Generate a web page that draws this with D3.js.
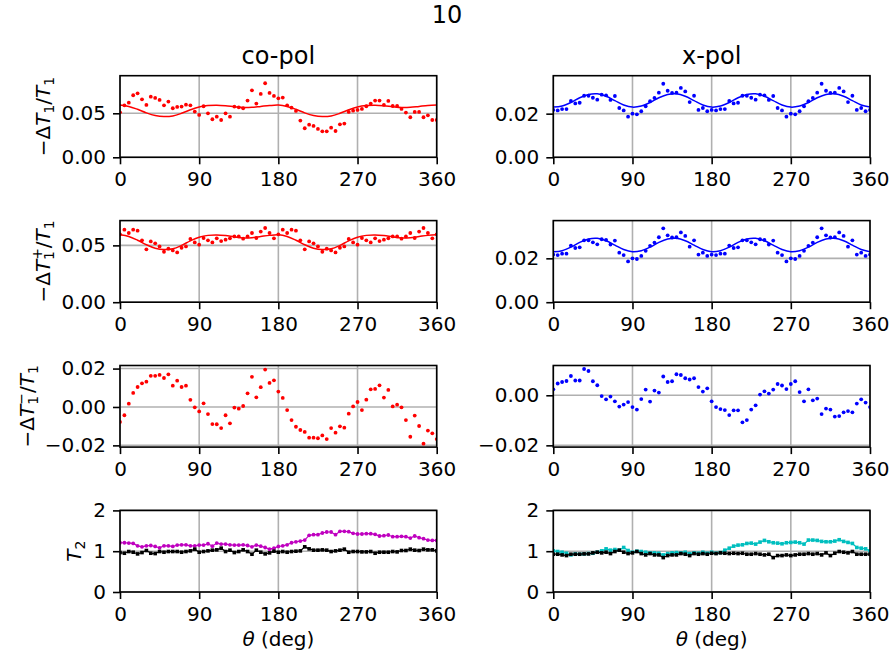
<!DOCTYPE html>
<html>
<head>
<meta charset="utf-8">
<script src="https://cdn.jsdelivr.net/npm/d3@7"></script>
<style>
  body { margin: 0; background: #fff; }
  svg { display: block; }
  text { font-family: "DejaVu Sans", sans-serif; fill: #000; }
</style>
</head>
<body>
<svg id="fig" width="894" height="660"></svg>
<script>
// Measurement angles (deg) and the angles at which the fitted curves are sampled
const thetaDeg = [0,5,10,15,20,25,30,35,40,45,50,55,60,65,70,75,80,85,90,95,100,105,110,115,120,125,130,135,140,145,150,155,160,165,170,175,
  180,185,190,195,200,205,210,215,220,225,230,235,240,245,250,255,260,265,270,275,280,285,290,295,300,305,310,315,320,325,330,335,340,345,350,355,360];
const fitThetaDeg = [0,10,20,30,40,50,60,70,80,90,100,110,120,130,140,150,160,170,180,
  190,200,210,220,230,240,250,260,270,280,290,300,310,320,330,340,350,360];
const xTickValues = [0, 90, 180, 270, 360];

// co-pol: -dT1/T1
const coT1 = [0.0511,0.0591,0.0621,0.0705,0.0727,0.0659,0.0595,0.0689,0.0674,0.0652,0.0591,0.0633,0.0557,0.0572,0.0576,0.0598,0.0591,0.0519,
  0.0481,0.0580,0.0500,0.0432,0.0462,0.0424,0.0500,0.0462,0.0576,0.0568,0.0557,0.0644,0.0761,0.0610,0.0720,0.0841,0.0731,0.0697,
  0.0670,0.0678,0.0591,0.0564,0.0527,0.0417,0.0330,0.0371,0.0356,0.0322,0.0295,0.0295,0.0337,0.0299,0.0375,0.0383,0.0515,0.0530,
  0.0538,0.0549,0.0580,0.0610,0.0644,0.0644,0.0595,0.0640,0.0583,0.0583,0.0549,0.0508,0.0455,0.0515,0.0515,0.0455,0.0477,0.0424,0.0424];
// co-pol: -dT1+/T1
const coT1Plus = [0.0597,0.0638,0.0609,0.0638,0.0629,0.0544,0.0465,0.0535,0.0518,0.0491,0.0444,0.0471,0.0456,0.0438,0.0479,0.0491,0.0556,0.0526,
  0.0506,0.0565,0.0544,0.0526,0.0562,0.0538,0.0550,0.0562,0.0579,0.0579,0.0559,0.0579,0.0609,0.0565,0.0621,0.0653,0.0609,0.0562,
  0.0597,0.0638,0.0609,0.0638,0.0629,0.0544,0.0465,0.0535,0.0518,0.0491,0.0444,0.0471,0.0456,0.0438,0.0479,0.0491,0.0556,0.0526,
  0.0506,0.0565,0.0544,0.0526,0.0562,0.0538,0.0550,0.0562,0.0579,0.0579,0.0559,0.0579,0.0609,0.0565,0.0621,0.0653,0.0609,0.0562,0.0597];
// co-pol: -dT1-/T1
const coT1Minus = [-0.0078,-0.0043,0.0017,0.0073,0.0104,0.0123,0.0132,0.0162,0.0162,0.0167,0.0151,0.0170,0.0111,0.0137,0.0104,0.0111,0.0037,-0.0002,
  -0.0023,0.0019,-0.0037,-0.0089,-0.0090,-0.0110,-0.0043,-0.0085,-0.0003,-0.0009,0.0005,0.0071,0.0157,0.0050,0.0103,0.0195,0.0125,0.0139,
  0.0080,0.0047,-0.0016,-0.0068,-0.0103,-0.0120,-0.0130,-0.0160,-0.0160,-0.0163,-0.0148,-0.0167,-0.0110,-0.0134,-0.0101,-0.0108,-0.0035,0.0003,
  0.0026,-0.0016,0.0038,0.0092,0.0094,0.0113,0.0049,0.0089,0.0003,0.0012,-0.0002,-0.0068,-0.0155,-0.0045,-0.0099,-0.0191,-0.0123,-0.0137,-0.0167];
// co-pol T2 (two traces)
const coT2a = [1.207,1.207,1.198,1.190,1.132,1.107,1.132,1.140,1.116,1.083,1.132,1.132,1.116,1.149,1.157,1.157,1.132,1.132,
  1.149,1.149,1.182,1.124,1.198,1.174,1.174,1.157,1.149,1.149,1.157,1.140,1.107,1.149,1.124,1.091,1.050,1.074,
  1.116,1.132,1.157,1.207,1.231,1.248,1.273,1.388,1.405,1.405,1.446,1.471,1.471,1.405,1.488,1.488,1.479,1.438,
  1.421,1.421,1.430,1.430,1.413,1.372,1.380,1.397,1.355,1.355,1.364,1.355,1.322,1.372,1.331,1.306,1.273,1.264,1.264];
const coT2b = [0.967,0.950,0.992,0.975,0.934,0.967,1.017,0.950,0.942,0.992,0.975,0.992,0.992,0.992,0.975,0.992,1.008,1.050,
  0.975,0.992,1.008,1.025,1.033,1.074,0.992,1.025,0.967,0.992,1.033,0.992,0.926,1.025,0.975,0.934,0.959,1.000,
  0.975,0.992,0.975,0.992,1.000,1.008,1.107,1.058,1.025,1.025,1.033,1.025,0.992,1.008,1.025,1.050,0.975,0.992,
  0.992,0.983,0.983,0.992,0.950,0.975,0.975,0.975,0.992,0.983,1.017,1.017,1.050,1.025,1.017,1.050,1.033,1.033,1.008];

// x-pol: -dT1/T1
const xT1 = [0.0217,0.0215,0.0221,0.0221,0.0258,0.0247,0.0250,0.0282,0.0282,0.0273,0.0264,0.0287,0.0284,0.0263,0.0281,0.0226,0.0215,0.0186,
  0.0200,0.0197,0.0211,0.0234,0.0257,0.0272,0.0296,0.0337,0.0305,0.0295,0.0296,0.0318,0.0302,0.0253,0.0282,0.0217,0.0226,0.0211,
  0.0217,0.0215,0.0221,0.0221,0.0258,0.0247,0.0250,0.0282,0.0282,0.0273,0.0264,0.0287,0.0284,0.0263,0.0281,0.0226,0.0215,0.0186,
  0.0200,0.0197,0.0211,0.0234,0.0257,0.0272,0.0296,0.0337,0.0305,0.0295,0.0296,0.0318,0.0302,0.0253,0.0282,0.0217,0.0226,0.0211,0.0217];
// x-pol: -dT1+/T1
const xT1Plus = [0.0217,0.0215,0.0221,0.0221,0.0258,0.0247,0.0250,0.0282,0.0282,0.0273,0.0264,0.0287,0.0284,0.0263,0.0281,0.0226,0.0215,0.0186,
  0.0200,0.0197,0.0211,0.0234,0.0257,0.0272,0.0296,0.0337,0.0305,0.0295,0.0296,0.0318,0.0302,0.0253,0.0282,0.0217,0.0226,0.0211,
  0.0217,0.0215,0.0221,0.0221,0.0258,0.0247,0.0250,0.0282,0.0282,0.0273,0.0264,0.0287,0.0284,0.0263,0.0281,0.0226,0.0215,0.0186,
  0.0200,0.0197,0.0211,0.0234,0.0257,0.0272,0.0296,0.0337,0.0305,0.0295,0.0296,0.0318,0.0302,0.0253,0.0282,0.0217,0.0226,0.0211,0.0217];
// x-pol: -dT1-/T1
const xT1Minus = [0.0024,0.0047,0.0053,0.0057,0.0077,0.0059,0.0059,0.0105,0.0097,0.0056,0.0040,-0.0003,-0.0016,-0.0005,-0.0024,-0.0045,-0.0037,-0.0027,
  -0.0047,-0.0057,-0.0015,0.0023,-0.0025,0.0019,0.0011,0.0075,0.0053,0.0056,0.0084,0.0081,0.0068,0.0063,0.0068,0.0033,0.0015,0.0028,
  -0.0024,-0.0047,-0.0055,-0.0059,-0.0079,-0.0060,-0.0060,-0.0108,-0.0099,-0.0057,-0.0040,0.0003,0.0016,0.0007,0.0023,0.0045,0.0039,0.0025,
  0.0045,0.0056,0.0013,-0.0024,0.0024,-0.0020,-0.0013,-0.0075,-0.0053,-0.0057,-0.0085,-0.0083,-0.0068,-0.0063,-0.0068,-0.0033,-0.0016,-0.0029,-0.0047];
// x-pol T2 (two traces)
const xT2a = [1.008,0.992,0.975,0.950,0.909,0.934,0.926,0.934,0.942,0.950,0.975,1.008,1.058,1.025,1.041,1.025,1.091,1.017,
  0.975,1.000,0.992,0.975,0.959,0.959,0.950,0.909,0.942,0.959,0.967,0.959,0.975,0.942,0.959,0.950,0.975,0.950,
  0.975,0.950,0.967,1.025,1.074,1.124,1.149,1.157,1.190,1.198,1.174,1.223,1.264,1.231,1.207,1.198,1.182,1.207,
  1.215,1.223,1.207,1.174,1.273,1.273,1.264,1.240,1.231,1.231,1.248,1.281,1.240,1.215,1.190,1.091,1.074,1.058,1.008];
const xT2b = [0.926,0.926,0.909,0.893,0.926,0.926,0.926,0.934,0.934,0.959,0.975,0.959,0.975,0.942,0.992,1.025,0.975,0.942,
  0.959,0.992,0.942,0.909,0.942,0.909,0.909,0.843,0.893,0.909,0.909,0.942,0.926,0.893,0.942,0.926,0.942,0.926,
  0.950,0.942,0.959,0.950,0.942,0.950,0.942,0.950,0.926,0.926,0.942,0.926,0.909,0.926,0.843,0.893,0.893,0.909,
  0.893,0.909,0.926,0.926,0.942,0.926,0.942,0.909,0.959,0.893,0.950,0.992,0.975,0.959,0.992,0.926,0.926,0.926,0.926];

// Fitted curves, sampled every 10 deg
const coFit = [0.0593,0.0578,0.0545,0.0505,0.0475,0.0463,0.0470,0.0500,0.0540,0.0572,0.0588,0.0592,0.0586,0.0575,0.0566,0.0568,0.0578,0.0588,0.0593,
  0.0578,0.0545,0.0505,0.0475,0.0463,0.0470,0.0500,0.0540,0.0572,0.0588,0.0592,0.0586,0.0575,0.0566,0.0568,0.0578,0.0588,0.0593];
const xFit = [0.0230,0.0235,0.0251,0.0273,0.0288,0.0291,0.0280,0.0260,0.0240,
  0.0230,0.0235,0.0251,0.0273,0.0288,0.0291,0.0280,0.0260,0.0240,
  0.0230,0.0235,0.0251,0.0273,0.0288,0.0291,0.0280,0.0260,0.0240,
  0.0230,0.0235,0.0251,0.0273,0.0288,0.0291,0.0280,0.0260,0.0240,0.0230];

const RED = "#ff0000", BLUE = "#0000ff", MAGENTA = "#bf00bf", CYAN = "#00bfbf", BLACK = "#000000";

const panels = [
  { row: 0, col: 0, yDomain: [0, 0.0927], yTicks: [0, 0.05], fmt: ".2f",
    series: [{ v: coT1, color: RED, mark: "dot" }], fit: { v: coFit, color: RED } },
  { row: 0, col: 1, yDomain: [0, 0.0374], yTicks: [0, 0.02], fmt: ".2f",
    series: [{ v: xT1, color: BLUE, mark: "dot" }], fit: { v: xFit, color: BLUE } },
  { row: 1, col: 0, yDomain: [0, 0.0718], yTicks: [0, 0.05], fmt: ".2f",
    series: [{ v: coT1Plus, color: RED, mark: "dot" }], fit: { v: coFit, color: RED } },
  { row: 1, col: 1, yDomain: [0, 0.0372], yTicks: [0, 0.02], fmt: ".2f",
    series: [{ v: xT1Plus, color: BLUE, mark: "dot" }], fit: { v: xFit, color: BLUE } },
  { row: 2, col: 0, yDomain: [-0.0209, 0.0216], yTicks: [-0.02, 0, 0.02], fmt: ".2f",
    series: [{ v: coT1Minus, color: RED, mark: "dot" }] },
  { row: 2, col: 1, yDomain: [-0.0207, 0.0119], yTicks: [-0.02, 0], fmt: ".2f",
    series: [{ v: xT1Minus, color: BLUE, mark: "dot" }] },
  { row: 3, col: 0, yDomain: [0, 2], yTicks: [0, 1, 2], fmt: "d",
    series: [{ v: coT2a, color: MAGENTA, mark: "circle" }, { v: coT2b, color: BLACK, mark: "square" }] },
  { row: 3, col: 1, yDomain: [0, 2], yTicks: [0, 1, 2], fmt: "d",
    series: [{ v: xT2a, color: CYAN, mark: "square" }, { v: xT2b, color: BLACK, mark: "square" }] }
];

const svg = d3.select("#fig");
const colLeft = [120, 553.3], axW = 316.7;
const rowTop = [75.7, 220.6, 365.5, 510.4], axH = 81.6;
const FS = 20;

panels.forEach((p, i) => {
  const x0 = colLeft[p.col], y0 = rowTop[p.row];
  const x = d3.scaleLinear().domain([0, 360]).range([x0, x0 + axW]);
  const y = d3.scaleLinear().domain(p.yDomain).range([y0 + axH, y0]);
  const g = svg.append("g");

  const cid = "clip" + i;
  svg.append("clipPath").attr("id", cid).append("rect")
    .attr("x", x0).attr("y", y0).attr("width", axW).attr("height", axH);

  // grid
  const grid = g.append("g").attr("stroke", "#b0b0b0").attr("stroke-width", 1.6);
  grid.selectAll(".gx").data(xTickValues).join("line")
    .attr("x1", d => x(d)).attr("x2", d => x(d)).attr("y1", y0).attr("y2", y0 + axH);
  grid.selectAll(".gy").data(p.yTicks).join("line")
    .attr("x1", x0).attr("x2", x0 + axW).attr("y1", d => y(d)).attr("y2", d => y(d));

  const plot = g.append("g").attr("clip-path", `url(#${cid})`);

  if (p.fit) {
    const line = d3.line().x((d, k) => x(fitThetaDeg[k])).y(d => y(d)).curve(d3.curveCatmullRom);
    plot.append("path").attr("d", line(p.fit.v)).attr("fill", "none")
      .attr("stroke", p.fit.color).attr("stroke-width", 1.5);
  }

  p.series.forEach(s => {
    if (s.mark !== "dot") {
      const line = d3.line().x((d, k) => x(thetaDeg[k])).y(d => y(d));
      plot.append("path").attr("d", line(s.v)).attr("fill", "none")
        .attr("stroke", s.color).attr("stroke-width", 1.2);
    }
    if (s.mark === "square") {
      plot.append("g").selectAll("rect").data(s.v).join("rect")
        .attr("x", (d, k) => x(thetaDeg[k]) - 1.8).attr("y", d => y(d) - 1.8)
        .attr("width", 3.6).attr("height", 3.6).attr("fill", s.color);
    } else {
      plot.append("g").selectAll("circle").data(s.v).join("circle")
        .attr("cx", (d, k) => x(thetaDeg[k])).attr("cy", d => y(d))
        .attr("r", s.mark === "dot" ? 1.9 : 1.9).attr("fill", s.color);
    }
  });

  // axes
  const xa = g.append("g").attr("transform", `translate(0,${y0 + axH})`)
    .call(d3.axisBottom(x).tickValues(xTickValues).tickSize(7).tickPadding(7).tickFormat(d3.format("d")));
  const ya = g.append("g").attr("transform", `translate(${x0},0)`)
    .call(d3.axisLeft(y).tickValues(p.yTicks).tickSize(7).tickPadding(7).tickFormat(d3.format(p.fmt)));
  [xa, ya].forEach(a => {
    a.select(".domain").remove();
    a.attr("font-size", FS).attr("font-family", "DejaVu Sans");
    a.selectAll(".tick line").attr("stroke", "#000").attr("stroke-width", 1.6);
    a.selectAll(".tick text").attr("fill", "#000");
  });
  xa.selectAll(".tick text").attr("dy", "0.76em");

  // spines
  g.append("rect").attr("x", x0).attr("y", y0).attr("width", axW).attr("height", axH)
    .attr("fill", "none").attr("stroke", "#000").attr("stroke-width", 1.6);
});

// titles
svg.append("text").attr("x", 447).attr("y", 23).attr("text-anchor", "middle")
  .attr("font-size", 24).text("10");
svg.append("text").attr("x", colLeft[0] + axW / 2).attr("y", rowTop[0] - 12).attr("text-anchor", "middle")
  .attr("font-size", 24).text("co-pol");
svg.append("text").attr("x", colLeft[1] + axW / 2).attr("y", rowTop[0] - 12).attr("text-anchor", "middle")
  .attr("font-size", 24).text("x-pol");

// x-axis labels
[0, 1].forEach(c => {
  const t = svg.append("text").attr("x", colLeft[c] + axW / 2).attr("y", 646)
    .attr("text-anchor", "middle").attr("font-size", FS);
  t.append("tspan").attr("font-style", "italic").text("θ");
  t.append("tspan").text(" (deg)");
});

// y-axis labels (rotated)
function yLabel(bx, cy, build) {
  const t = svg.append("g").attr("transform", `translate(${bx},${cy}) rotate(-90)`)
    .append("text").attr("text-anchor", "middle").attr("font-size", FS);
  build(t);
}
const SUB = 14;
function tT1(t, supText) {
  t.append("tspan").text("−Δ");
  t.append("tspan").attr("font-style", "italic").text("T");
  t.append("tspan").attr("font-size", SUB).attr("dy", 4).text("1");
  if (supText) {
    t.append("tspan").attr("font-size", SUB).attr("dx", -8.9).attr("dy", -12).text(supText);
    t.append("tspan").attr("dy", 8).text("/");
  } else {
    t.append("tspan").attr("dy", -4).text("/");
  }
  t.append("tspan").attr("font-style", "italic").text("T");
  t.append("tspan").attr("font-size", SUB).attr("dy", 4).text("1");
}
yLabel(50, rowTop[0] + axH / 2, t => tT1(t, null));
yLabel(50, rowTop[1] + axH / 2, t => tT1(t, "+"));
yLabel(34, rowTop[2] + axH / 2, t => tT1(t, "−"));
yLabel(81, rowTop[3] + axH / 2, t => {
  t.append("tspan").attr("font-style", "italic").text("T");
  t.append("tspan").attr("font-size", SUB).attr("dy", 4).text("2");
});
</script>
</body>
</html>
